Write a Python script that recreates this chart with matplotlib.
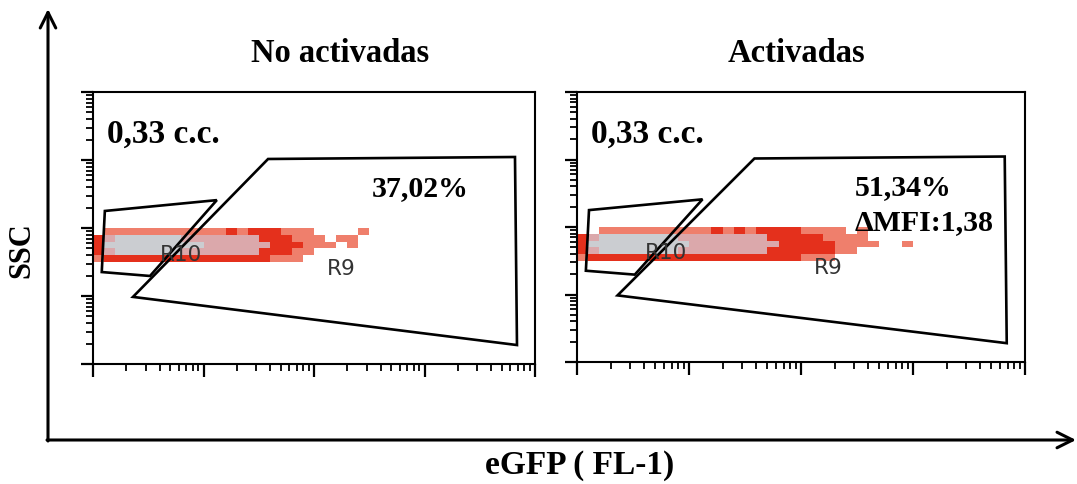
import numpy as np
import matplotlib.pyplot as plt
from matplotlib.colors import ListedColormap
from matplotlib.ticker import LogLocator, NullFormatter

# titulos y textos de cada panel
titles = ['No activadas', 'Activadas']
conc_labels = ['0,33 c.c.', '0,33 c.c.']
pct_labels = ['37,02%', '51,34%']
mfi_labels = ['', '\u0394MFI:1,38']

# gates (coordenadas en unidades de canal, escala log)
r10_x = [1.2, 1.28, 13.2, 3.28]
r10_y = [22.5, 178, 257, 19.7]
r9_x = [2.3, 38.4, 6590, 6870]
r9_y = [9.7, 1035, 1107, 1.9]

# densidad de eventos (0 vacio, 1 disperso, 2 rojo, 3 rosa, 4 gris)
# filas de arriba (SSC alto) hacia abajo, columnas de 0.1 decada en FL-1
cloud_left = [
    "011111111111212221110000100",
    "234444443333333222111011000",
    "244444444433333322211101000",
    "234444443333333222110000000",
    "122222222222222211100000000",
]
cloud_right = [
    "0011111111112121222211110100000",
    "2344444443333333322222111100000",
    "2444444444333333332222211110010",
    "2344444443333333322222211000000",
    "1222222222222222222211100000000",
]
clouds = [cloud_left, cloud_right]

serif = ['Liberation Serif', 'DejaVu Serif']
cmap = ListedColormap(['#ef7f6c', '#e4301c', '#dba8ab', '#cbcdd1'])

fig = plt.figure(figsize=(10.77, 4.85), dpi=100)

# flechas de los ejes generales
bg = fig.add_axes([0, 0, 1, 1])
bg.set_xlim(0, 1077)
bg.set_ylim(485, 0)
bg.axis('off')
bg.annotate('', xy=(48, 10), xytext=(48, 442),
            arrowprops=dict(arrowstyle='->', lw=2.2, color='black', mutation_scale=28,
                            shrinkA=0, shrinkB=0))
bg.annotate('', xy=(1076, 441), xytext=(47, 441),
            arrowprops=dict(arrowstyle='->', lw=2.2, color='black', mutation_scale=28,
                            shrinkA=0, shrinkB=0))
bg.text(22, 250, 'SSC', rotation=90, ha='center', va='center',
        fontsize=22, fontweight='bold', family=serif)
bg.text(580, 466, 'eGFP ( FL-1)', ha='center', va='center',
        fontsize=24, fontweight='bold', family=serif)
bg.text(340, 53, titles[0], ha='center', va='center',
        fontsize=23.5, fontweight='bold', family=serif)
bg.text(796, 53, titles[1], ha='center', va='center',
        fontsize=23.5, fontweight='bold', family=serif)

rects = [[93/1077, 1-365/485, 442/1077, 272/485],
         [577/1077, 1-363/485, 448/1077, 270/485]]

for k in range(2):
    ax = fig.add_axes(rects[k])
    ax.set_xscale('log')
    ax.set_yscale('log')
    ax.set_xlim(1, 1e4)
    ax.set_ylim(1, 1e4)

    grid = np.array([[int(c) for c in row] for row in clouds[k]])[::-1]
    nrow, ncol = grid.shape
    xe = 10 ** (0.1 * np.arange(ncol + 1))
    ye = 10 ** (1.5 + 0.1 * np.arange(nrow + 1))
    data = np.ma.masked_equal(grid, 0)
    ax.pcolormesh(xe, ye, data, cmap=cmap, vmin=0.5, vmax=4.5, shading='flat')

    ax.text(4.04, 42, 'R10', fontsize=15.5, color='#333333', ha='left', va='center')
    ax.text(130, 25.5, 'R9', fontsize=15.5, color='#333333', ha='left', va='center')

    ax.fill(r10_x, r10_y, fill=False, ec='black', lw=1.9)
    ax.fill(r9_x, r9_y, fill=False, ec='black', lw=1.9)

    ax.text(1.34, 1850, conc_labels[k], fontsize=24, fontweight='bold', family=serif,
            ha='left', va='baseline')
    ax.text(330 if k == 0 else 300, 310, pct_labels[k], fontsize=21.5, fontweight='bold',
            family=serif, ha='left', va='baseline')
    ax.text(300, 93, mfi_labels[k], fontsize=21.5, fontweight='bold',
            family=serif, ha='left', va='baseline')

    for s in ax.spines.values():
        s.set_linewidth(1.5)
    ax.xaxis.set_major_locator(LogLocator(base=10, numticks=10))
    ax.xaxis.set_minor_locator(LogLocator(base=10, subs=np.arange(2, 10), numticks=20))
    ax.yaxis.set_major_locator(LogLocator(base=10, numticks=10))
    ax.yaxis.set_minor_locator(LogLocator(base=10, subs=np.arange(2, 10), numticks=20))
    ax.xaxis.set_minor_formatter(NullFormatter())
    ax.yaxis.set_minor_formatter(NullFormatter())
    ax.tick_params(which='major', direction='out', length=9, width=1.6,
                   labelbottom=False, labelleft=False, top=False, right=False)
    ax.tick_params(which='minor', direction='out', length=5, width=1.3,
                   top=False, right=False)

fig.savefig('out.png', dpi=100)
